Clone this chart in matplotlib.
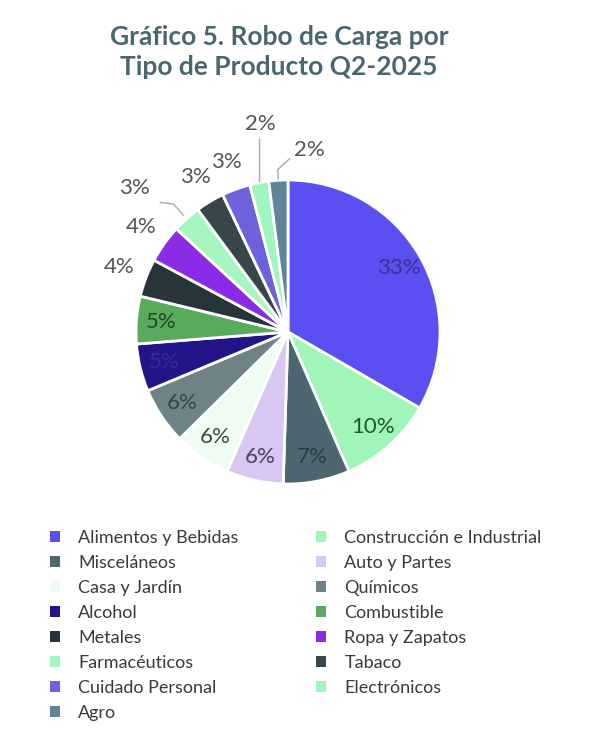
import numpy as np
import matplotlib.pyplot as plt
from matplotlib.patches import Patch

# Data
categories = ["Alimentos y Bebidas", "Construcción e Industrial", "Misceláneos",
              "Auto y Partes", "Casa y Jardín", "Químicos", "Alcohol",
              "Combustible", "Metales", "Ropa y Zapatos", "Farmacéuticos",
              "Tabaco", "Cuidado Personal", "Electrónicos", "Agro"]
shares = [33, 10, 7, 6, 6, 6, 5, 5, 4, 4, 3, 3, 3, 2, 2]

colors = ["#5a4ff0", "#a0f5b8", "#4d6670", "#d9c6f2", "#eefcf3", "#6e8288",
          "#24148a", "#5aaa5e", "#27353b", "#8b2be8", "#a7f6c2", "#37464a",
          "#6e62dc", "#9ff5c0", "#5f8598"]
inner_colors = ["#3b3590", "#1f5a2b", "#2c3c42", "#4a4060", "#444444", "#33454b",
                "#3a2aa0", "#1f4a22"]

W, H = 600, 752
fig = plt.figure(figsize=(W / 100, H / 100), dpi=100)
fig.patch.set_facecolor("white")

# pie axes: centre at (288, 332) px, radius 152 px
cx, cy, r = 288, 332, 152
span = 1.6 * r
ax = fig.add_axes([(cx - span) / W, (H - cy - span) / H, 2 * span / W, 2 * span / H])

wedges, _ = ax.pie(shares, colors=colors, startangle=90, counterclock=False,
                   wedgeprops=dict(edgecolor="white", linewidth=2))
ax.set_xlim(-1.6, 1.6)
ax.set_ylim(-1.6, 1.6)
ax.set_aspect("equal")
ax.axis("off")

label_font = dict(family="Lato", fontsize=16, ha="center", va="center")
outside_col = "#555555"

for i, w in enumerate(wedges):
    mid = np.deg2rad((w.theta1 + w.theta2) / 2)
    c, s = np.cos(mid), np.sin(mid)
    txt = f"{shares[i]}%"
    name = categories[i]
    if shares[i] >= 5:
        ax.text(0.84 * c, 0.84 * s, txt, color=inner_colors[i], **label_font)
    elif name == "Farmacéuticos":
        lx, ly = -1.01, 0.95
        ax.plot([1.03 * c, 1.13 * c, lx + 0.17], [1.03 * s, 1.13 * s, 1.13 * s + 0.01],
                color="#aaaaaa", lw=1)
        ax.text(lx, ly, txt, color=outside_col, **label_font)
    elif name == "Electrónicos":
        lx, ly = -0.18, 1.37
        ax.plot([1.01 * c, 1.01 * c], [1.01 * s, ly - 0.1], color="#aaaaaa", lw=1)
        ax.text(lx, ly, txt, color=outside_col, **label_font)
    elif name == "Agro":
        lx, ly = 0.14, 1.20
        ax.plot([1.01 * c, 1.07 * c, lx - 0.13], [1.01 * s, 1.07 * s, ly - 0.06],
                color="#aaaaaa", lw=1)
        ax.text(lx, ly, txt, color=outside_col, **label_font)
    else:
        ax.text(1.19 * c, 1.19 * s, txt, color=outside_col, **label_font)

# Title
fig.text(279 / W, 1 - 52 / H, "Gráfico 5. Robo de Carga por\nTipo de Producto Q2-2025",
         ha="center", va="center", family="Lato", fontweight="bold", fontsize=19,
         color="#4a6670", linespacing=1.32)

# Legend, filled row by row
order = list(range(0, len(categories), 2)) + list(range(1, len(categories), 2))
handles = [Patch(facecolor=colors[k], edgecolor="none") for k in order]
labels = [categories[k] for k in order]
fig.legend(handles, labels, ncols=2, loc="upper left",
           bbox_to_anchor=(50 / W, 1 - 530 / H), frameon=False,
           prop=dict(family="Lato", size=13), labelcolor="#3a3a3a",
           handlelength=0.55, handleheight=0.55, handletextpad=1.0,
           labelspacing=0.5, columnspacing=4.32, borderpad=0, borderaxespad=0)

fig.savefig("out.png", dpi=100, facecolor="white")
